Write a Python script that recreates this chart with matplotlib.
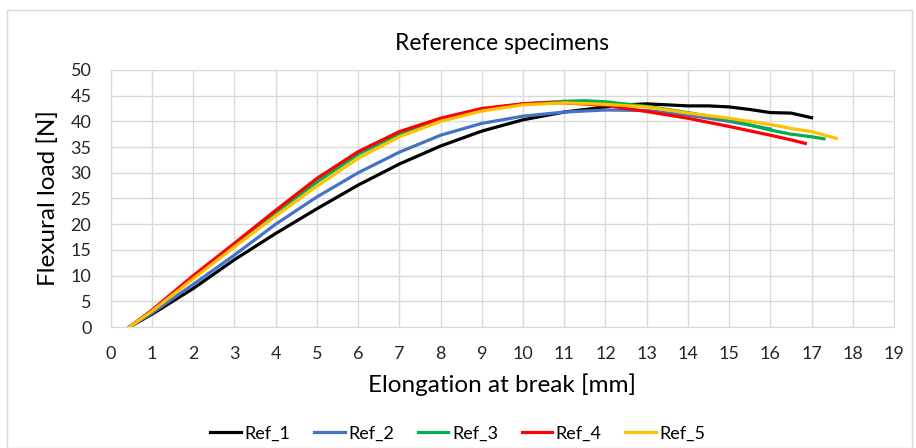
import matplotlib
matplotlib.use("Agg")
import matplotlib.pyplot as plt
from matplotlib.patches import Rectangle

plt.rcParams['font.family'] = ['Lato', 'DejaVu Sans']

# elongation [mm] / load [N]
ref1_x = [0.45, 1, 2, 3, 4, 5, 6, 7, 8, 9, 10, 11, 12, 12.5, 13, 13.5, 14, 14.5, 15, 15.5, 16, 16.5, 17]
ref1_y = [0, 2.5, 7.5, 13.1, 18.2, 23.0, 27.6, 31.7, 35.2, 38.1, 40.3, 41.8, 42.8, 43.2, 43.4, 43.2, 43.0, 43.0, 42.8, 42.3, 41.7, 41.6, 40.7]

ref2_x = [0.45, 1, 2, 3, 4, 5, 6, 7, 8, 9, 10, 11, 12, 13, 14, 15, 16]
ref2_y = [0, 2.7, 8.3, 14.0, 20.0, 25.3, 30.0, 34.0, 37.3, 39.6, 41.0, 41.8, 42.2, 42.1, 41.2, 40.0, 38.5]

ref3_x = [0.45, 1, 2, 3, 4, 5, 6, 7, 8, 9, 10, 11, 11.5, 12, 13, 14, 15, 16, 16.5, 17, 17.3]
ref3_y = [0, 3.2, 9.8, 16.0, 22.3, 28.2, 33.6, 37.6, 40.4, 42.3, 43.4, 43.9, 44.0, 43.8, 42.9, 41.7, 40.3, 38.3, 37.5, 37.0, 36.6]

ref4_x = [0.45, 1, 2, 3, 4, 5, 6, 7, 8, 9, 10, 10.5, 11, 12, 13, 14, 15, 16, 16.5, 16.85]
ref4_y = [0, 3.3, 10.0, 16.3, 22.7, 28.9, 34.1, 38.0, 40.6, 42.5, 43.4, 43.6, 43.6, 43.1, 41.9, 40.6, 39.0, 37.3, 36.4, 35.7]

ref5_x = [0.45, 1, 2, 3, 4, 5, 6, 7, 8, 9, 10, 11, 12, 13, 14, 15, 15.8, 16.2, 16.5, 17, 17.6]
ref5_y = [0, 3.1, 9.4, 15.6, 21.6, 27.4, 32.8, 37.0, 40.0, 42.0, 43.2, 43.6, 43.3, 42.8, 41.6, 40.6, 39.6, 39.1, 38.6, 38.0, 36.7]

names = ["Ref_1", "Ref_2", "Ref_3", "Ref_4", "Ref_5"]
colors = ["#000000", "#4472C4", "#00B050", "#FF0000", "#FFC000"]
xs = [ref1_x, ref2_x, ref3_x, ref4_x, ref5_x]
ys = [ref1_y, ref2_y, ref3_y, ref4_y, ref5_y]

fig = plt.figure(figsize=(9.16, 4.48), dpi=100)
fig.patches.append(Rectangle((7/916, 0), 905/916, 438/448, transform=fig.transFigure,
                             fill=False, edgecolor="#d9d9d9", linewidth=1))
ax = fig.add_axes([0.121, 0.270, 0.855, 0.574])

for x, y, name, c in zip(xs, ys, names, colors):
    ax.plot(x, y, color=c, linewidth=2.3, label=name)

ax.set_xlim(0, 19)
ax.set_ylim(0, 50)
ax.set_xticks(range(0, 20))
ax.set_yticks(range(0, 51, 5))
ax.grid(True, color="#d9d9d9", linewidth=1)
ax.set_axisbelow(True)
for s in ax.spines.values():
    s.set_color("#d9d9d9")
ax.tick_params(axis="x", length=0, labelsize=13, colors="#262626", pad=14)
ax.tick_params(axis="y", length=0, labelsize=13, colors="#262626", pad=14)

ax.set_title("Reference specimens", fontsize=16.5, color="#000000", pad=14)
ax.set_xlabel("Elongation at break [mm]", fontsize=17.5, labelpad=8)
ax.set_ylabel("Flexural load [N]", fontsize=17.5, labelpad=8)

fig.legend(loc="lower center", bbox_to_anchor=(0.5, -0.022), ncol=5, frameon=False,
           fontsize=13, handlelength=1.7, columnspacing=1.3, handletextpad=0.2)

fig.savefig("out.png", dpi=100)
